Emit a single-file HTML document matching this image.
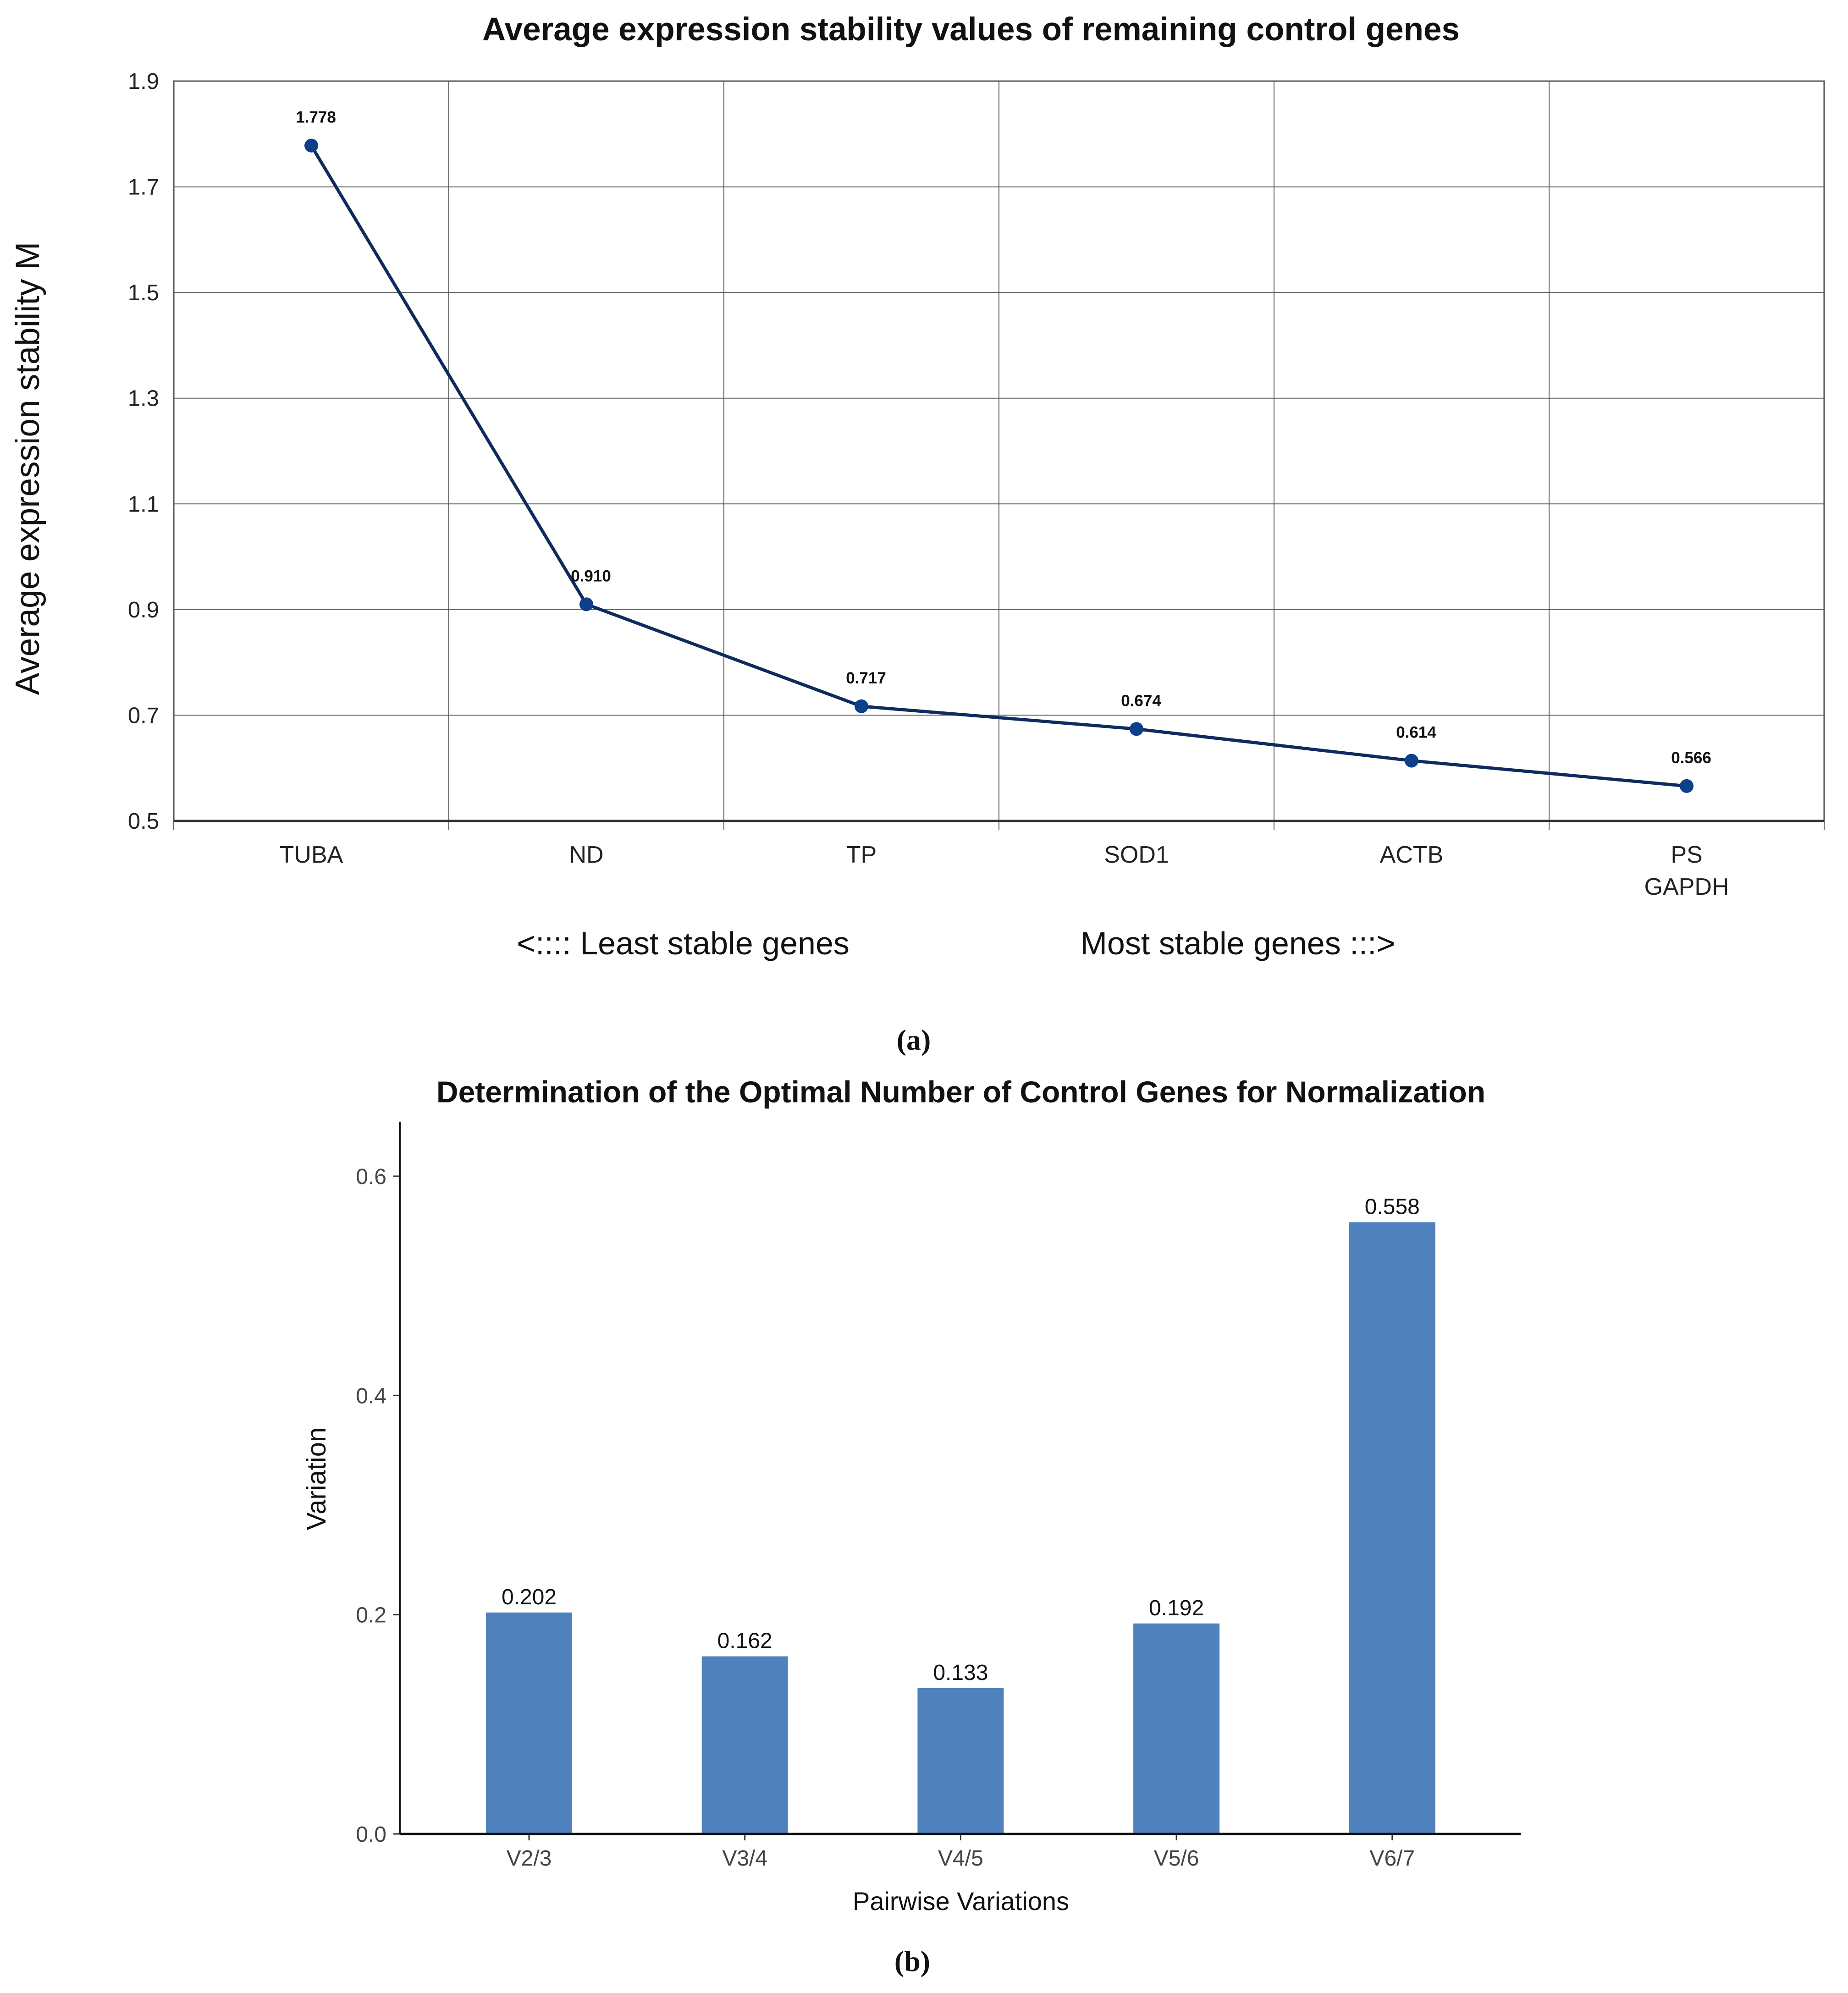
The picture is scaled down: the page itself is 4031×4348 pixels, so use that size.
<!DOCTYPE html>
<html><head><meta charset="utf-8"><style>
html,body{margin:0;padding:0;background:#fff;}
svg{display:block;font-family:"Liberation Sans",sans-serif;}
</style></head><body>
<svg id="chart" width="4031" height="4348" viewBox="0 0 4031 4348" xmlns="http://www.w3.org/2000/svg">
<g id="a"></g>
<g id="b"></g>
</svg>
<script>
const genesA = ["TUBA","ND","TP","SOD1","ACTB","PS|GAPDH"];
const valuesA = [1.778,0.910,0.717,0.674,0.614,0.566];
const labelsA = ["1.778","0.910","0.717","0.674","0.614","0.566"];
const ticksA = [0.5,0.7,0.9,1.1,1.3,1.5,1.7,1.9];
const catsB = ["V2/3","V3/4","V4/5","V5/6","V6/7"];
const valuesB = [0.202,0.162,0.133,0.192,0.558];
const ticksB = [0.0,0.2,0.4,0.6];

const NS="http://www.w3.org/2000/svg";
function mk(parent,tag,attrs,text){const e=document.createElementNS(NS,tag);for(const k in attrs)e.setAttribute(k,attrs[k]);if(text!==undefined)e.textContent=text;parent.appendChild(e);return e;}

// Chart A
const gA=document.getElementById('a');
const L=379,R=3979,T=177,B=1791,ymin=0.5,ymax=1.9;
const yA=v=>B-(v-ymin)/(ymax-ymin)*(B-T);
const step=(R-L)/genesA.length;
const xA=i=>L+step*(i+0.5);
let t=mk(gA,'text',{x:2118,y:88,'text-anchor':'middle','font-size':71,'font-weight':'bold',fill:'#111'},'Average expression stability values of remaining control genes');


let bg=mk(gA,'rect',{x:L,y:T,width:R-L,height:B-T,fill:'#fff',stroke:'#444','stroke-width':3});


ticksA.forEach(v=>{
  const gl=mk(gA,'line',{x1:L,x2:R,y1:yA(v),y2:yA(v),stroke:'#666','stroke-width':2});
  
  
  const tl=mk(gA,'text',{x:347,y:yA(v)+17,'text-anchor':'end','font-size':49,fill:'#222'},v.toFixed(1));
  
  
});
for(let i=0;i<=genesA.length;i++){
  const gl=mk(gA,'line',{x1:L+step*i,x2:L+step*i,y1:T,y2:B+20,stroke:'#555','stroke-width':2});
  
  
}
let ax=mk(gA,'line',{x1:L,x2:R,y1:B,y2:B,stroke:'#333','stroke-width':5});


genesA.forEach((g,i)=>{
  g.split('|').forEach((p,j)=>{
    const tl=mk(gA,'text',{x:xA(i),y:1882+j*70,'text-anchor':'middle','font-size':52,fill:'#222'},p);
    
    
  });
});
let pts=valuesA.map((v,i)=>xA(i)+','+yA(v)).join(' ');
let ln=mk(gA,'polyline',{points:pts,fill:'none',stroke:'#0d2b5e','stroke-width':7});


valuesA.forEach((v,i)=>{
  const c=mk(gA,'circle',{cx:xA(i),cy:yA(v),r:15,fill:'#0d3f8a'});
  
  
  const tl=mk(gA,'text',{x:xA(i)+10,y:yA(v)-50,'text-anchor':'middle','font-size':35,'font-weight':'bold',fill:'#111'},labelsA[i]);
  
  
});
t=mk(gA,'text',{x:0,y:0,transform:'translate(85,1022) rotate(-90)','text-anchor':'middle','font-size':73,fill:'#111'},'Average expression stability M');


t=mk(gA,'text',{x:1490,y:2082,'text-anchor':'middle','font-size':70,fill:'#111'},'<:::: Least stable genes');


t=mk(gA,'text',{x:2700,y:2082,'text-anchor':'middle','font-size':70,fill:'#111'},'Most stable genes   :::>');


t=mk(gA,'text',{x:1993,y:2290,'text-anchor':'middle','font-size':64,'font-weight':'bold','font-family':'Liberation Serif',fill:'#111'},'(a)');



// Chart B
const gB=document.getElementById('b');
const L2=872,R2=3317,B2=4001,T2=2447;
const yB=v=>B2-v/0.6*(B2-2566);
const xB=i=>1154+470.7*i;
const bw=188;
t=mk(gB,'text',{x:2096,y:2405,'text-anchor':'middle','font-size':66,'font-weight':'bold',fill:'#111'},'Determination of the Optimal Number of Control Genes for Normalization');


valuesB.forEach((v,i)=>{
  const r=mk(gB,'rect',{x:xB(i)-bw/2,y:yB(v),width:bw,height:B2-yB(v),fill:'#4f81bd'});
  
  
  const tl=mk(gB,'text',{x:xB(i),y:yB(v)-18,'text-anchor':'middle','font-size':48,fill:'#111'},v.toFixed(3));
  
  
  const xl=mk(gB,'text',{x:xB(i),y:4070,'text-anchor':'middle','font-size':48,fill:'#444'},catsB[i]);
  
  
  const tk=mk(gB,'line',{x1:xB(i),x2:xB(i),y1:B2,y2:B2+14,stroke:'#333','stroke-width':3});
  
  
});
ticksB.forEach(v=>{
  const tk=mk(gB,'line',{x1:L2-14,x2:L2,y1:yB(v),y2:yB(v),stroke:'#333','stroke-width':3});
  
  
  const tl=mk(gB,'text',{x:843,y:yB(v)+17,'text-anchor':'end','font-size':48,fill:'#444'},v.toFixed(1));
  
  
});
ax=mk(gB,'line',{x1:L2,x2:L2,y1:T2,y2:B2,stroke:'#111','stroke-width':4});


ax=mk(gB,'line',{x1:L2,x2:R2,y1:B2,y2:B2,stroke:'#111','stroke-width':5});


t=mk(gB,'text',{x:0,y:0,transform:'translate(710,3226) rotate(-90)','text-anchor':'middle','font-size':58,fill:'#111'},'Variation');


t=mk(gB,'text',{x:2096,y:4167,'text-anchor':'middle','font-size':56,fill:'#111'},'Pairwise Variations');


t=mk(gB,'text',{x:1990,y:4300,'text-anchor':'middle','font-size':64,'font-weight':'bold','font-family':'Liberation Serif',fill:'#111'},'(b)');


</script>
</body></html>
